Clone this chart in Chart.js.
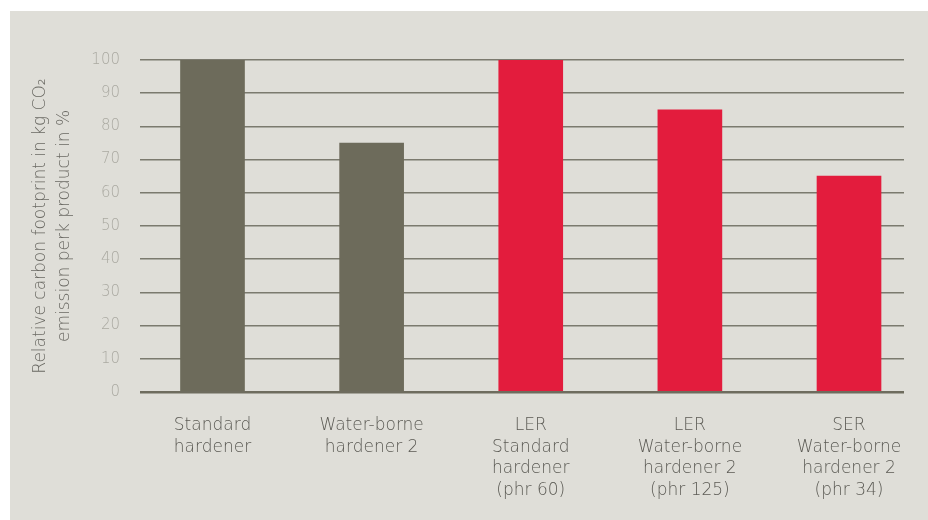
<!DOCTYPE html>
<html>
<head>
<meta charset="utf-8">
<script src="https://cdn.jsdelivr.net/npm/chart.js@4"></script>
<style>
  html, body { margin: 0; padding: 0; background: #ffffff; }
  #panel { position: absolute; left: 10px; top: 11px; width: 918px; height: 509px; background: #dfded8; }
  #c { display: block; }
</style>
</head>
<body>
<div id="panel"><canvas id="c" width="918" height="509"></canvas></div>
<script>
const categories = [
  ['Standard', 'hardener'],
  ['Water-borne', 'hardener 2'],
  ['LER', 'Standard', 'hardener', '(phr 60)'],
  ['LER', 'Water-borne', 'hardener 2', '(phr 125)'],
  ['SER', 'Water-borne', 'hardener 2', '(phr 34)']
];
const values = [100, 75, 100, 85, 65];
const barColors = ['#6d6b5b', '#6d6b5b', '#e31c3d', '#e31c3d', '#e31c3d'];
const yTitle = ['Relative carbon footprint in kg CO\u2082', 'emission perk product in %'];

const points = values.map((v, i) => ({ x: i, y: v }));
const FONT = "'DejaVu Sans', sans-serif";

new Chart(document.getElementById('c'), {
  type: 'bar',
  data: {
    datasets: [{
      data: points,
      backgroundColor: barColors,
      borderWidth: 0,
      barThickness: 64
    }]
  },
  options: {
    responsive: false,
    animation: false,
    devicePixelRatio: 1,
    layout: { padding: { top: 49, right: 24, bottom: 0, left: 0 } },
    plugins: { legend: { display: false }, tooltip: { enabled: false } },
    scales: {
      x: {
        type: 'linear',
        offset: false,
        min: -0.4556,
        max: 4.3456,
        grid: { display: false, offset: false },
        border: { display: false },
        afterFit: (s) => { s.height = 128; },
        ticks: {
          stepSize: 1,
          includeBounds: false,
          autoSkip: false,
          maxRotation: 0,
          padding: 15,
          color: '#5b5a54',
          font: { family: FONT, size: 17, weight: 200, lineHeight: 1.27 },
          callback: (v) => Number.isInteger(v) && categories[v] ? categories[v] : ''
        }
      },
      y: {
        min: 0,
        max: 100,
        border: { display: false },
        afterFit: (s) => { s.width = 130; },
        grid: {
          drawTicks: false,
          color: (ctx) => ctx.tick && ctx.tick.value === 0 ? '#6e6c5e' : '#7b7a6e',
          lineWidth: (ctx) => ctx.tick && ctx.tick.value === 0 ? 2.5 : 1.5
        },
        ticks: {
          stepSize: 10,
          padding: 20,
          color: '#aaa9a1',
          font: { family: FONT, size: 15, weight: 200 }
        },
        title: {
          display: true,
          text: yTitle,
          color: '#6a6963',
          padding: { top: 18, bottom: 0 },
          font: { family: FONT, size: 17, weight: 200, lineHeight: 1.45 }
        }
      }
    }
  }
});
</script>
</body>
</html>
